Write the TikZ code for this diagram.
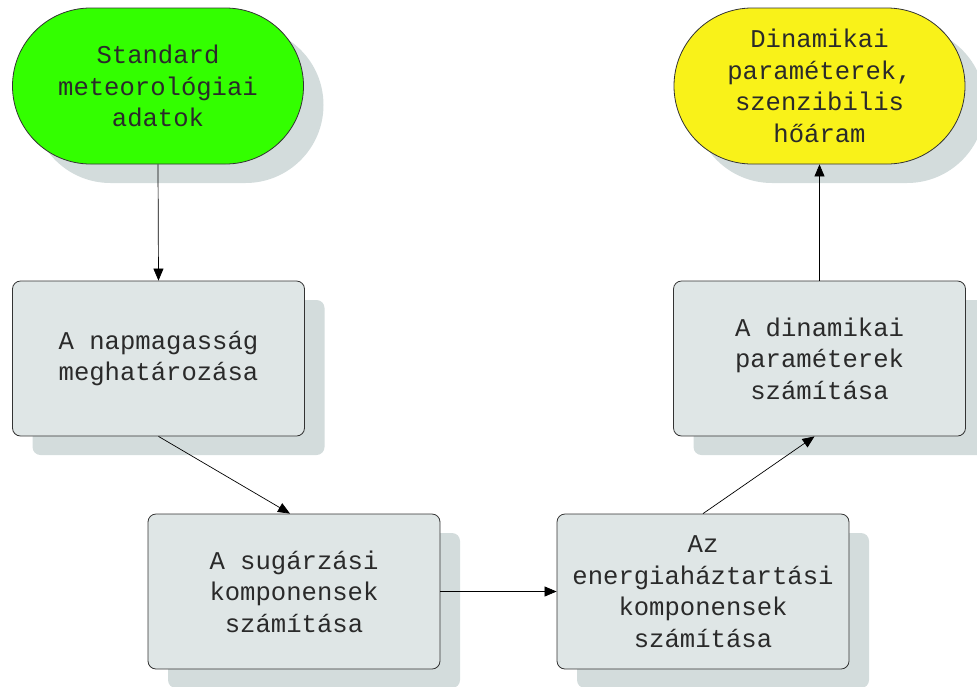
\documentclass[tikz,border=0pt]{standalone}
\usepackage{fontspec}
\setmonofont{Liberation Mono}
\usetikzlibrary{shapes.misc,shadows,arrows.meta}
\definecolor{greenc}{HTML}{33FF00}
\definecolor{yellowc}{HTML}{F9F219}
\definecolor{boxc}{HTML}{DFE6E6}
\definecolor{shadowc}{HTML}{D3DCDC}
\definecolor{linec}{HTML}{333333}
\definecolor{textc}{HTML}{2A2A2A}
\tikzset{
  base/.style={draw=linec, line width=0.8pt, align=center, inner sep=0pt,
    text=textc, font=\fontsize{25.6}{31.5}\selectfont\ttfamily,
    general shadow={fill=shadowc, shadow xshift=20pt, shadow yshift=-19pt}},
  term/.style={base, rounded rectangle, minimum width=291pt, minimum height=156pt},
  proc/.style={base, rectangle, rounded corners=8pt, fill=boxc, minimum width=292pt, minimum height=155pt},
  conn/.style={draw=black, line width=0.7pt, -{Triangle[length=12pt,width=10pt]}}
}
\begin{document}
\begin{tikzpicture}[x=1pt,y=-1pt]
\useasboundingbox (0,0) rectangle (977,686);
\node[term, fill=greenc] (g) at (158,86) {Standard\\meteorológiai\\adatok};
\node[term, fill=yellowc] (y) at (819.5,86) {Dinamikai\\paraméterek,\\szenzibilis\\hőáram};
\node[proc] (b1) at (158.5,358.5) {A napmagasság\\meghatározása};
\node[proc] (b2) at (294,591.5) {A sugárzási\\komponensek\\számítása};
\node[proc] (b3) at (703,591.5) {Az\\energiaháztartási\\komponensek\\számítása};
\node[proc] (b4) at (819.5,358.5) {A dinamikai\\paraméterek\\számítása};
\draw[conn] (g.south) -- (b1.north);
\draw[conn] (b1.south) -- ([xshift=-4pt]b2.north);
\draw[conn] (b2.east) -- (b3.west);
\draw[conn] (b3.north) -- ([xshift=-5pt]b4.south);
\draw[conn] (b4.north) -- (y.south);
\end{tikzpicture}
\end{document}
